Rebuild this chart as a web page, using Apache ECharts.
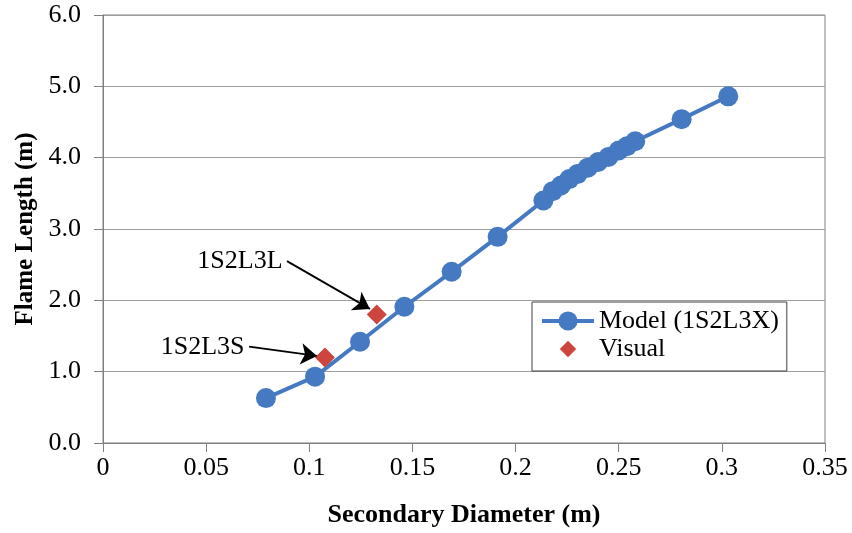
<!DOCTYPE html>
<html>
<head>
<meta charset="utf-8">
<script src="https://cdn.jsdelivr.net/npm/echarts@6/dist/echarts.min.js"></script>
<style>
  html, body { margin: 0; padding: 0; background: #fff; }
  #chart { width: 852px; height: 533px; }
</style>
</head>
<body>
<div id="chart"></div>
<script>
// model curve (1S2L3X)
const modelX = [0.079, 0.1028, 0.1246, 0.1461, 0.169, 0.1913, 0.2135, 0.218, 0.222, 0.226, 0.230, 0.235, 0.240, 0.245, 0.250, 0.254, 0.258, 0.2805, 0.3031];
const modelY = [0.63, 0.93, 1.42, 1.91, 2.40, 2.89, 3.40, 3.53, 3.61, 3.70, 3.77, 3.86, 3.94, 4.01, 4.10, 4.16, 4.23, 4.54, 4.86];

// visual observations
const visualX = [0.1076, 0.1327];
const visualY = [1.20, 1.80];

// annotation texts with arrow start/end (data units)
const noteText = ['1S2L3L', '1S2L3S'];
const noteFrom = [[0.0892, 2.55], [0.0708, 1.35]];
const noteTo = [[0.1294, 1.88], [0.1037, 1.22]];

const FONT = 'Liberation Serif';
const BLUE = '#4579C2';
const RED = '#CC463F';

// diamond with empty margin so the legend icon stays small and square
const legendDiamond = 'path://M-1.45,-1.45M1.45,1.45M0,-1L1,0L0,1L-1,0Z';

const chart = echarts.init(document.getElementById('chart'));

const option = {
    animation: false,
    textStyle: { fontFamily: FONT },
    grid: {
        left: 103,
        right: 27,
        top: 15,
        bottom: 88,
        show: true,
        borderColor: '#808080',
        borderWidth: 1
    },
    legend: {
        orient: 'vertical',
        left: 532,
        top: 302,
        padding: [6, 8, 9, 8],
        itemGap: 2,
        itemWidth: 52,
        itemHeight: 24,
        backgroundColor: '#fff',
        borderColor: '#404040',
        borderWidth: 1,
        lineStyle: { width: 4 },
        textStyle: { fontFamily: FONT, fontSize: 26, color: '#000' },
        data: [
            { name: 'Model (1S2L3X)' },
            { name: 'Visual', icon: legendDiamond }
        ]
    },
    xAxis: {
        type: 'value',
        min: 0,
        max: 0.35,
        interval: 0.05,
        name: 'Secondary Diameter (m)',
        nameLocation: 'middle',
        nameGap: 59,
        nameTextStyle: { fontFamily: FONT, fontSize: 26, fontWeight: 'bold', color: '#000' },
        axisLine: { show: true, lineStyle: { color: '#808080', width: 1 } },
        axisTick: { show: true, length: 9, lineStyle: { color: '#808080' } },
        axisLabel: {
            fontFamily: FONT, fontSize: 26, color: '#000', margin: 12,
            formatter: v => String(+v.toFixed(2))
        },
        splitLine: { show: false }
    },
    yAxis: {
        type: 'value',
        min: 0,
        max: 6,
        interval: 1,
        name: 'Flame Length (m)',
        nameLocation: 'middle',
        nameGap: 63,
        nameTextStyle: { fontFamily: FONT, fontSize: 25, fontWeight: 'bold', color: '#000' },
        axisLine: { show: true, lineStyle: { color: '#808080', width: 1 } },
        axisTick: { show: true, length: 9, lineStyle: { color: '#808080' } },
        axisLabel: {
            fontFamily: FONT, fontSize: 26, color: '#000', margin: 22,
            formatter: v => v.toFixed(1)
        },
        splitLine: { show: true, lineStyle: { color: '#9e9e9e', width: 1 } }
    },
    series: [
        {
            name: 'Model (1S2L3X)',
            type: 'line',
            data: modelX.map((x, i) => [x, modelY[i]]),
            symbol: 'circle',
            symbolSize: 20,
            lineStyle: { color: BLUE, width: 4 },
            itemStyle: { color: BLUE },
            emphasis: { disabled: true },
            z: 3
        },
        {
            name: 'Visual',
            type: 'scatter',
            data: visualX.map((x, i) => [x, visualY[i]]),
            symbol: 'diamond',
            symbolSize: 20,
            itemStyle: { color: RED, opacity: 1 },
            emphasis: { disabled: true },
            z: 4,
            markLine: {
                silent: true,
                symbol: ['none', 'arrow'],
                symbolSize: 16,
                label: { show: false },
                lineStyle: { color: '#000', width: 1.8, type: 'solid' },
                data: noteFrom.map((p, i) => [{ coord: p }, { coord: noteTo[i] }])
            },
            markPoint: {
                silent: true,
                symbol: 'circle',
                symbolSize: 1,
                itemStyle: { color: 'rgba(0,0,0,0)' },
                label: {
                    show: true,
                    position: 'left',
                    distance: 4,
                    formatter: '{b}',
                    fontFamily: FONT,
                    fontSize: 26,
                    color: '#000'
                },
                data: noteText.map((t, i) => ({ name: t, coord: noteFrom[i] }))
            }
        }
    ]
};

chart.setOption(option);
</script>
</body>
</html>
